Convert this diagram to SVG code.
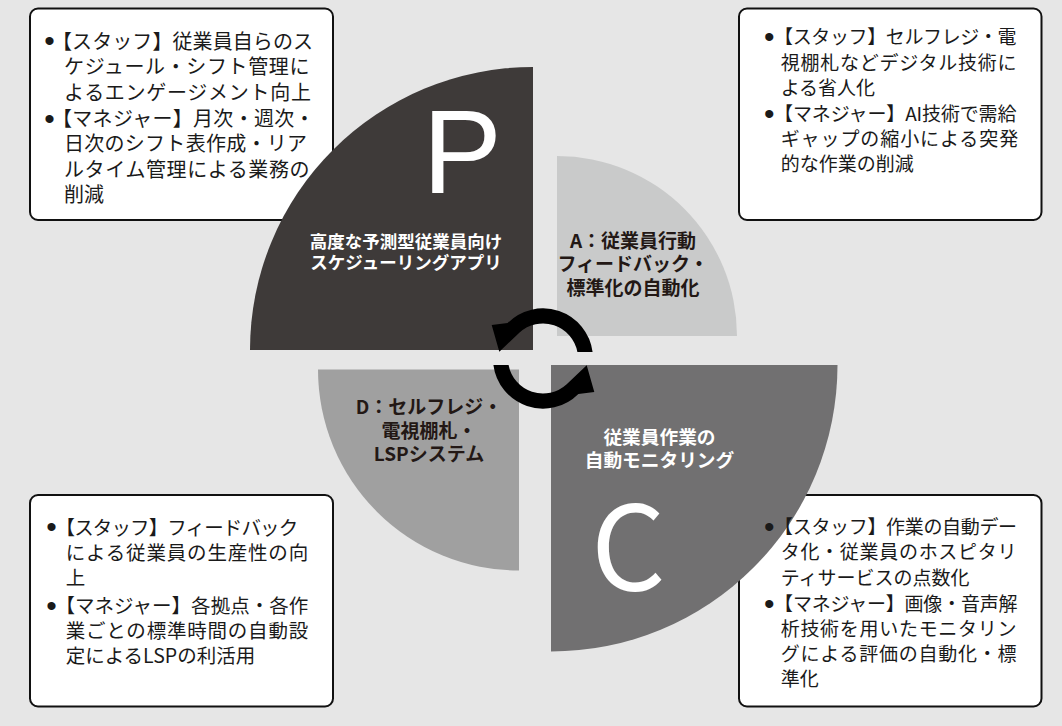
<svg xmlns="http://www.w3.org/2000/svg" xmlns:xlink="http://www.w3.org/1999/xlink" width="1062" height="726" viewBox="0 0 1062 726">
<style>
.bg{fill:#e6e6e6}
.frame{fill:#ffffff;stroke:#111;stroke-width:2}
.bt{font-family:"Noto Sans CJK JP","Noto Sans CJK SC",sans-serif;fill:#1a1a1a}
.b1{font-size:20px}
.b2{font-size:19px}
.b3{font-size:19.5px}
.bul{font-family:"Liberation Sans",Arial,sans-serif;font-size:30px;fill:#1a1a1a;text-anchor:middle}
.ql{font-family:"Noto Sans CJK JP","Noto Sans CJK SC",sans-serif;font-weight:700;text-anchor:middle}
.big{font-weight:400;fill:#ffffff}
.arrow{fill:#000}
</style>
<defs>
<path id="arc-arrow" d="M592.6 352 A50 50 0 0 0 507.6 323.1 L491.7 325 L499.3 351.7 L519.3 332.7 A35 35 0 0 1 577.4 352 Z"/>
</defs>
<rect class="bg" x="0" y="0" width="1062" height="726"/>

<g id="frames">
<rect class="frame" x="30" y="8.5" width="303" height="211.5" rx="8"/>
<rect class="frame" x="739" y="8.5" width="302.5" height="211.5" rx="8"/>
<rect class="frame" x="30" y="495" width="303" height="211.5" rx="8"/>
<rect class="frame" x="739" y="495" width="302.5" height="211.5" rx="8"/>
</g>

<g id="quadrant-p">
<path d="M533 350 L250 350 A283 283 0 0 1 533 67 Z" fill="#3e3a39"/>
<text class="big" x="422.5" y="193" font-family="'Liberation Sans', Arial, sans-serif" font-size="119">P</text>
<text class="ql" font-size="17.5" fill="#ffffff"><tspan x="406" y="248">高度な予測型従業員向け</tspan><tspan x="406" y="269">スケジューリングアプリ</tspan></text>
</g>

<g id="quadrant-a">
<path d="M557 336 L557 156 A180 180 0 0 1 737 336 Z" fill="#c9caca"/>
<text class="ql" font-size="19" fill="#231815"><tspan x="633" y="248">A：従業員行動</tspan><tspan x="633" y="271">フィードバック・</tspan><tspan x="633" y="294.5">標準化の自動化</tspan></text>
</g>

<g id="quadrant-d">
<path d="M519 369.5 L318 369.5 A201 201 0 0 0 519 570.5 Z" fill="#a0a0a0"/>
<text class="ql" font-size="19" fill="#231815"><tspan x="429" y="413.5">D：セルフレジ・</tspan><tspan x="429" y="438">電視棚札・</tspan><tspan x="429" y="460.5">LSPシステム</tspan></text>
</g>

<g id="quadrant-c">
<path d="M551 365 L837.5 365 A286.5 286.5 0 0 1 551 651.5 Z" fill="#717071"/>
<text class="big" x="591" y="590" font-family="'Noto Sans CJK JP', 'Noto Sans', sans-serif" font-size="117">C</text>
<text class="ql" font-size="18.7" fill="#ffffff"><tspan x="659.5" y="444">従業員作業の</tspan><tspan x="659.5" y="467">自動モニタリング</tspan></text>
</g>

<g id="connectors">
<use xlink:href="#arc-arrow" href="#arc-arrow" class="arrow"/>
<use xlink:href="#arc-arrow" href="#arc-arrow" class="arrow" transform="rotate(180 543 358.5)"/>
</g>

<g id="box-plan">
<text class="bul" x="49.5" y="51.3">•</text>
<text class="bul" x="49.5" y="128.6">•</text>
<text class="bt b1" x="52" y="48.5" textLength="261" lengthAdjust="spacing">【スタッフ】従業員自らのス</text>
<text class="bt b1" x="64" y="74" textLength="245.5" lengthAdjust="spacing">ケジュール・シフト管理に</text>
<text class="bt b1" x="64" y="99.5" textLength="247" lengthAdjust="spacing">よるエンゲージメント向上</text>
<text class="bt b1" x="52" y="125.8" textLength="262.5" lengthAdjust="spacing">【マネジャー】月次・週次・</text>
<text class="bt b1" x="64" y="151.3" textLength="243" lengthAdjust="spacing">日次のシフト表作成・リア</text>
<text class="bt b1" x="64" y="176.8" textLength="245.5" lengthAdjust="spacing">ルタイム管理による業務の</text>
<text class="bt b1" x="64" y="202.3">削減</text>
</g>

<g id="box-act">
<text class="bul" x="769.2" y="47.3">•</text>
<text class="bul" x="769.2" y="123.9">•</text>
<text class="bt b2" x="774.1" y="44.2" textLength="242.4" lengthAdjust="spacing">【スタッフ】セルフレジ・電</text>
<text class="bt b2" x="780.7" y="69.5" textLength="235.8" lengthAdjust="spacing">視棚札などデジタル技術に</text>
<text class="bt b2" x="780.7" y="94.8">よる省人化</text>
<text class="bt b2" x="774.1" y="120.8" textLength="242.4" lengthAdjust="spacing">【マネジャー】AI技術で需給</text>
<text class="bt b2" x="780.7" y="146" textLength="237.5" lengthAdjust="spacing">ギャップの縮小による突発</text>
<text class="bt b2" x="780.7" y="171">的な作業の削減</text>
</g>

<g id="box-do">
<text class="bul" x="51.5" y="537.3">•</text>
<text class="bul" x="51.5" y="615.6">•</text>
<text class="bt b3" x="55.5" y="534.5" textLength="242.7" lengthAdjust="spacing">【スタッフ】フィードバック</text>
<text class="bt b3" x="65.7" y="559.7" textLength="242.5" lengthAdjust="spacing">による従業員の生産性の向</text>
<text class="bt b3" x="65.7" y="585">上</text>
<text class="bt b3" x="55.5" y="612.8" textLength="252.7" lengthAdjust="spacing">【マネジャー】各拠点・各作</text>
<text class="bt b3" x="65.7" y="638" textLength="242.5" lengthAdjust="spacing">業ごとの標準時間の自動設</text>
<text class="bt b3" x="65.7" y="663.2">定によるLSPの利活用</text>
</g>

<g id="box-check">
<text class="bul" x="769.3" y="537.3">•</text>
<text class="bul" x="769.3" y="613.9">•</text>
<text class="bt b2" x="774.1" y="534.2" textLength="243" lengthAdjust="spacing">【スタッフ】作業の自動デー</text>
<text class="bt b2" x="780.7" y="559.3" textLength="235.8" lengthAdjust="spacing">タ化・従業員のホスピタリ</text>
<text class="bt b2" x="780.7" y="584.5">ティサービスの点数化</text>
<text class="bt b2" x="774.1" y="610.8" textLength="243.4" lengthAdjust="spacing">【マネジャー】画像・音声解</text>
<text class="bt b2" x="780.7" y="636" textLength="235.8" lengthAdjust="spacing">析技術を用いたモニタリン</text>
<text class="bt b2" x="780.7" y="661.2" textLength="235.8" lengthAdjust="spacing">グによる評価の自動化・標</text>
<text class="bt b2" x="780.7" y="686.4">準化</text>
</g>
</svg>
